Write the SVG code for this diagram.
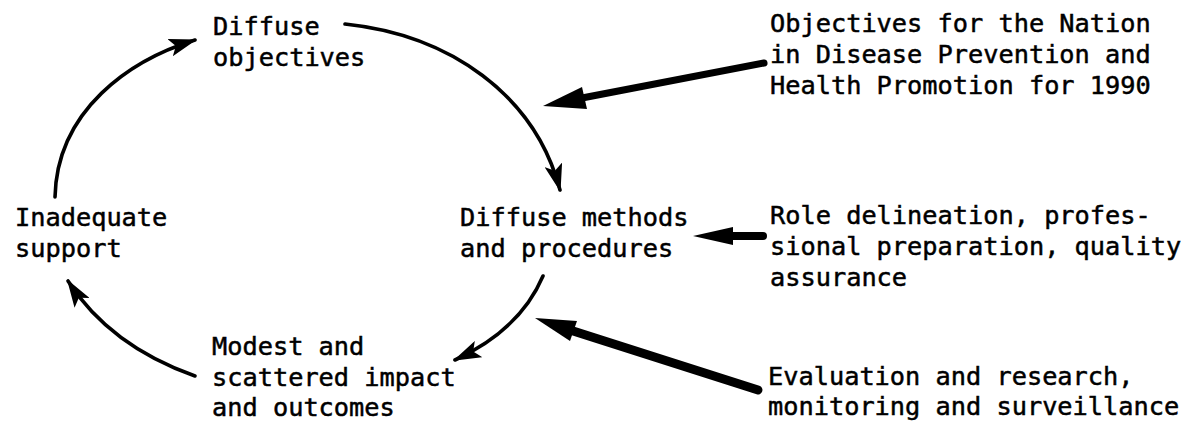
<svg xmlns="http://www.w3.org/2000/svg" width="1191" height="421" viewBox="0 0 1191 421">
<style>
text{font-family:"DejaVu Sans Mono","Liberation Mono",monospace;font-size:25.3px;fill:#000;stroke:#000;stroke-width:0.5}
.arc{fill:none;stroke:#000;stroke-width:3.6;stroke-linecap:round}
.thick{fill:none;stroke:#000;stroke-linecap:round}
</style>
<defs>
<marker id="head" markerUnits="userSpaceOnUse" markerWidth="28" markerHeight="18" refX="26" refY="9" orient="auto" viewBox="0 0 28 18">
<path d="M0,0 L28,9 L0,18 L6,9 Z" fill="#000"/>
</marker>
</defs>
<rect width="1191" height="421" fill="#fff"/>
<g id="connectors">
<path class="arc" d="M55,197 C57,110 130,60 195,40" marker-end="url(#head)"/>
<path class="arc" d="M345,24 C450,35 535,95 560,190" marker-end="url(#head)"/>
<path class="arc" d="M543,276 Q520,330 455,360" marker-end="url(#head)"/>
<path class="arc" d="M195,376 Q110,346 68,281" marker-end="url(#head)"/>
<g id="arrow-objectives">
<line class="thick" x1="764" y1="63" x2="582" y2="98" stroke-width="7"/>
<polygon points="543,106 587,109 582,87" fill="#000"/>
</g>
<g id="arrow-role">
<line class="thick" x1="763" y1="236" x2="728" y2="236" stroke-width="8"/>
<polygon points="693,236 733,227 733,245" fill="#000"/>
</g>
<g id="arrow-evaluation">
<line class="thick" x1="758" y1="390" x2="570" y2="330" stroke-width="9"/>
<polygon points="535,318 577,321 570,341" fill="#000"/>
</g>
</g>
<g id="node-diffuse-objectives">
<text x="213" y="35">Diffuse</text>
<text x="213" y="66">objectives</text>
</g>
<g id="node-objectives-nation">
<text x="770" y="32">Objectives for the Nation</text>
<text x="770" y="63">in Disease Prevention and</text>
<text x="770" y="94">Health Promotion for 1990</text>
</g>
<g id="node-inadequate-support">
<text x="15" y="226">Inadequate</text>
<text x="15" y="257">support</text>
</g>
<g id="node-diffuse-methods">
<text x="460" y="226">Diffuse methods</text>
<text x="460" y="257">and procedures</text>
</g>
<g id="node-role">
<text x="770" y="224">Role delineation, profes-</text>
<text x="770" y="255">sional preparation, quality</text>
<text x="770" y="286">assurance</text>
</g>
<g id="node-modest">
<text x="212" y="355">Modest and</text>
<text x="212" y="386">scattered impact</text>
<text x="212" y="416">and outcomes</text>
</g>
<g id="node-evaluation">
<text x="768" y="385">Evaluation and research,</text>
<text x="768" y="415">monitoring and surveillance</text>
</g>
</svg>
